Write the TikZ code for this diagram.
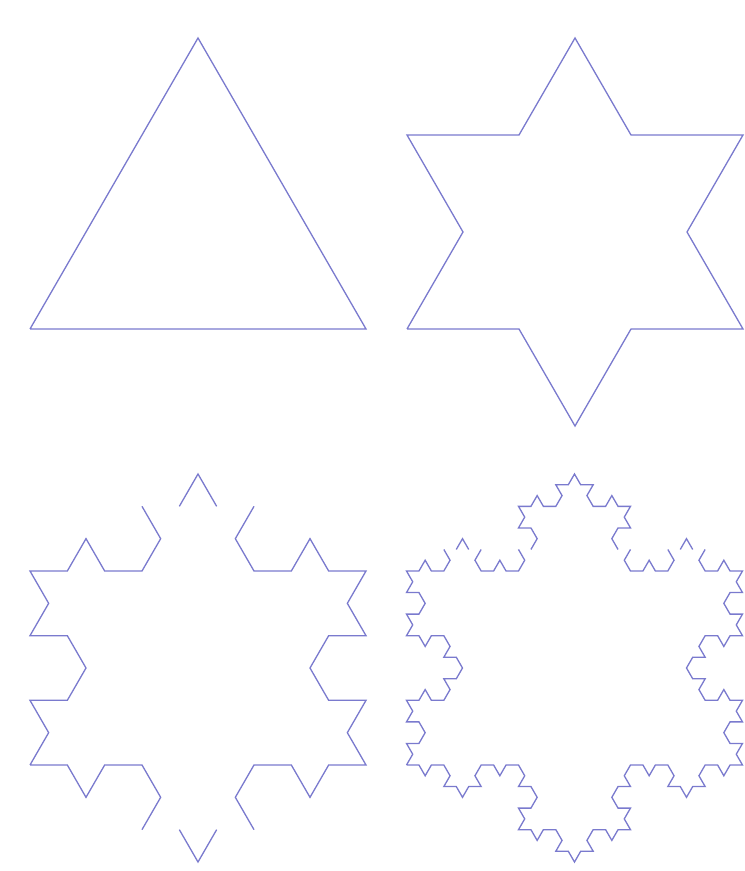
\documentclass[tikz,border=0pt]{standalone}
\definecolor{kochblue}{RGB}{122,122,206}
% --- a small turtle for Koch curves (headings are multiples of 60 degrees)
\newcount\Kh
\newdimen\Kx \newdimen\Ky \newdimen\Kstep
\def\Kl{\global\advance\Kh by 1 \ifnum\Kh>5 \global\advance\Kh by -6 \fi}
\def\Kr{\global\advance\Kh by -1 \ifnum\Kh<0 \global\advance\Kh by 6 \fi}
\def\Kadvance{\ifcase\Kh
   \global\advance\Kx by \Kstep
 \or \global\advance\Kx by 0.5\Kstep \global\advance\Ky by 0.866025\Kstep
 \or \global\advance\Kx by -0.5\Kstep \global\advance\Ky by 0.866025\Kstep
 \or \global\advance\Kx by -\Kstep
 \or \global\advance\Kx by -0.5\Kstep \global\advance\Ky by -0.866025\Kstep
 \or \global\advance\Kx by 0.5\Kstep \global\advance\Ky by -0.866025\Kstep
 \fi}
\def\Kdraw{\Kadvance\pgfpathlineto{\pgfqpoint{\Kx}{\Ky}}}
\def\Kmove{\Kadvance\pgfpathmoveto{\pgfqpoint{\Kx}{\Ky}}}
\def\KF#1{\ifnum#1=0 \Kdraw\else\expandafter\KFrec\expandafter{\the\numexpr#1-1\relax}\fi}
\def\KFrec#1{\KF{#1}\Kr\KF{#1}\Kl\Kl\KF{#1}\Kr\KF{#1}}
\def\KG{\KF{0}\Kr\KF{0}\Kl\Kl\Kmove\Kr\KF{0}}
\def\KH{\KF{0}\Kr\Kmove\Kl\Kl\KF{0}\Kr\KF{0}}
\def\Kdo#1{\if#1F\KF{1}\else\if#1G\KG\else\if#1H\KH\else\if#1+\Kl\else\Kr\fi\fi\fi\fi}
\def\Kparse#1{\ifx#1\relax\else\Kdo#1\expandafter\Kparse\fi}
\def\Kstart#1#2#3{\global\Kx=#1pt \global\Ky=#2pt \global\Kstep=#3pt
  \global\Kh=0 \pgfpathmoveto{\pgfqpoint{\Kx}{\Ky}}}
\def\Kstyle{\pgfsetstrokecolor{kochblue}\pgfsetlinewidth{1.3pt}\pgfsetmiterjoin}
\begin{document}
\begin{tikzpicture}[x=1pt,y=1pt]
\useasboundingbox[fill=white] (0,0) rectangle (745,871);
% order 0: triangle
\begin{pgfscope}\Kstyle
\Kstart{30}{542}{336}
\KF{0}\Kl\Kl\KF{0}\Kl\Kl\KF{0}
\pgfusepath{stroke}
\end{pgfscope}
% order 1: star
\begin{pgfscope}\Kstyle
\Kstart{407}{542}{112}
\KF{1}\Kl\Kl\KF{1}\Kl\Kl\KF{1}
\pgfusepath{stroke}
\end{pgfscope}
% order 2
\begin{pgfscope}\Kstyle
\Kstart{30}{106}{37.333}
\Kparse F-G++H-F++F-F++F-G++H-F++F-F\relax
\pgfusepath{stroke}
\end{pgfscope}
% order 3
\begin{pgfscope}\Kstyle
\Kstart{406.5}{106}{12.444}
\Kparse F-F++F-F-F-F++F-F++F-F++F-F-F-F++F-F++F-F++F-F-F-F++F-F++F-G++H-F-G-F++F-F++F-F++F-H-F-G++H-F++F-F++F-F-F-F++F-F\relax
\pgfusepath{stroke}
\end{pgfscope}
\end{tikzpicture}
\end{document}
